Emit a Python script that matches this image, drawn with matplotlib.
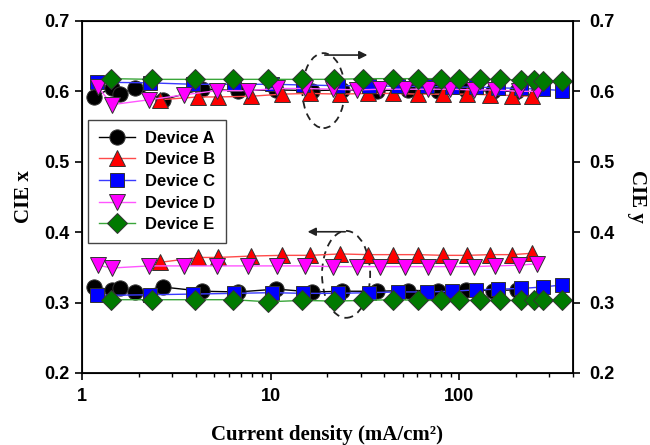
import matplotlib
matplotlib.use('Agg')
import matplotlib.pyplot as plt
from matplotlib.font_manager import FontProperties
from matplotlib.patches import Ellipse
from matplotlib.ticker import LogLocator, NullFormatter, FixedLocator

# Datos (densidad de corriente en mA/cm2)
j_a = [1.16, 1.44, 1.59, 1.91, 2.69, 4.33, 6.72, 10.7, 16.6, 23.9, 36.7, 53.6, 77.4, 108, 150, 203]
cie_y_a = [0.592, 0.605, 0.596, 0.605, 0.588, 0.603, 0.601, 0.602, 0.601, 0.602, 0.601, 0.602, 0.601, 0.602, 0.600, 0.600]
cie_x_a = [0.322, 0.318, 0.321, 0.315, 0.322, 0.316, 0.315, 0.319, 0.315, 0.316, 0.316, 0.317, 0.317, 0.318, 0.317, 0.318]

j_b = [2.59, 4.12, 5.27, 7.88, 11.5, 16.2, 23.4, 32.9, 44.7, 60.6, 82.3, 110, 146, 191, 244]
cie_y_b = [0.588, 0.592, 0.592, 0.593, 0.596, 0.597, 0.596, 0.597, 0.597, 0.596, 0.596, 0.596, 0.595, 0.594, 0.593]
cie_x_b = [0.357, 0.364, 0.364, 0.366, 0.367, 0.367, 0.369, 0.368, 0.368, 0.368, 0.367, 0.367, 0.368, 0.368, 0.370]

j_c = [1.20, 2.29, 3.88, 6.40, 10.2, 14.9, 22.8, 33.3, 47.5, 67.6, 91.8, 122, 161, 213, 276, 352]
cie_y_c = [0.613, 0.612, 0.610, 0.610, 0.610, 0.609, 0.608, 0.608, 0.607, 0.607, 0.606, 0.606, 0.605, 0.604, 0.603, 0.601]
cie_x_c = [0.310, 0.311, 0.312, 0.313, 0.314, 0.313, 0.313, 0.314, 0.315, 0.315, 0.316, 0.318, 0.319, 0.320, 0.322, 0.325]

j_d = [1.22, 1.44, 2.27, 3.48, 5.20, 7.60, 10.8, 15.2, 21.5, 28.8, 38.1, 51.7, 68.5, 89.6, 119, 155, 206, 259]
cie_y_d = [0.606, 0.581, 0.588, 0.595, 0.601, 0.601, 0.604, 0.604, 0.603, 0.602, 0.603, 0.603, 0.603, 0.603, 0.602, 0.602, 0.600, 0.600]
cie_x_d = [0.353, 0.349, 0.352, 0.352, 0.352, 0.352, 0.352, 0.352, 0.351, 0.351, 0.351, 0.351, 0.351, 0.351, 0.351, 0.352, 0.353, 0.355]

j_e = [1.43, 2.35, 3.97, 6.33, 9.70, 14.7, 21.7, 31.0, 44.7, 60.6, 80.3, 100, 129, 165, 213, 250, 276, 348]
cie_y_e = [0.618, 0.617, 0.617, 0.617, 0.617, 0.617, 0.617, 0.618, 0.618, 0.618, 0.618, 0.617, 0.617, 0.617, 0.616, 0.616, 0.615, 0.615]
cie_x_e = [0.304, 0.304, 0.304, 0.304, 0.301, 0.303, 0.302, 0.303, 0.304, 0.303, 0.303, 0.303, 0.303, 0.303, 0.303, 0.303, 0.303, 0.304]

dispositivos = ['Device A', 'Device B', 'Device C', 'Device D', 'Device E']
y_ticks = [0.2, 0.3, 0.4, 0.5, 0.6, 0.7]

series = [
    (j_a, cie_x_a, cie_y_a, 'o', 'black', 'black', 11),
    (j_b, cie_x_b, cie_y_b, '^', '#ff0000', '#ff4a4a', 11),
    (j_c, cie_x_c, cie_y_c, 's', '#0000ff', '#3a3aff', 9.5),
    (j_d, cie_x_d, cie_y_d, 'v', '#ff00ff', '#ff55ff', 11),
    (j_e, cie_x_e, cie_y_e, 'D', '#007a00', '#3aa63a', 10),
]

fig = plt.figure(figsize=(6.5, 4.45), dpi=100)
ax = fig.add_axes([0.126, 0.162, 0.7555, 0.791])

for (j, cx, cy, m, cor_m, cor_l, ms), nome in zip(series, dispositivos):
    estilo = dict(marker=m, markersize=ms, markerfacecolor=cor_m, markeredgecolor='#333333',
                  markeredgewidth=0.7, color=cor_l, linewidth=1.0)
    ax.plot(j, cy, label=nome, **estilo)
    ax.plot(j, cx, **estilo)

ax.set_xscale('log')
ax.set_xlim(1, 400)
ax.set_ylim(0.2, 0.7)
ax.set_yticks(y_ticks)
ax.xaxis.set_major_locator(FixedLocator([1, 10, 100]))
ax.xaxis.set_minor_locator(LogLocator(base=10, subs=range(2, 10)))
ax.xaxis.set_minor_formatter(NullFormatter())

fonte_ticks = FontProperties(family='Liberation Sans', weight='bold', size=13)
ax.set_xticklabels(['1', '10', '100'], fontproperties=fonte_ticks)
ax.set_yticklabels(['%.1f' % v for v in y_ticks], fontproperties=fonte_ticks)
ax.tick_params(which='major', direction='out', length=5, width=1.2, pad=4)
ax.tick_params(which='minor', direction='out', length=3, width=1.0)
ax.tick_params(axis='x', which='major', pad=6)
for s in ax.spines.values():
    s.set_linewidth(1.3)

ax2 = ax.twinx()
ax2.set_ylim(0.2, 0.7)
ax2.set_yticks(y_ticks)
ax2.set_yticklabels(['%.1f' % v for v in y_ticks], fontproperties=fonte_ticks)
ax2.tick_params(direction='out', length=5, width=1.2, pad=7)

fonte_rotulo = dict(family='Liberation Serif', weight='bold', size=15)
ax.set_xlabel('Current density (mA/cm²)', labelpad=14, **fonte_rotulo)
ax.set_ylabel('CIE x', labelpad=7, **fonte_rotulo)
ax2.set_ylabel('CIE y', rotation=270, labelpad=23, **fonte_rotulo)

# elipses tracejadas e setas
ax.add_patch(Ellipse((0.492, 0.802), 0.086, 0.213, transform=ax.transAxes,
                     fill=False, linestyle=(0, (4, 3)), linewidth=1.3, color='#222222'))
ax.add_patch(Ellipse((0.538, 0.28), 0.098, 0.247, transform=ax.transAxes,
                     fill=False, linestyle=(0, (4, 3)), linewidth=1.3, color='#222222'))
ax.annotate('', xy=(0.587, 0.903), xytext=(0.489, 0.903), xycoords='axes fraction',
            arrowprops=dict(arrowstyle='-|>', color='#222222', lw=1.2, mutation_scale=12))
ax.annotate('', xy=(0.454, 0.401), xytext=(0.542, 0.401), xycoords='axes fraction',
            arrowprops=dict(arrowstyle='-|>', color='#222222', lw=1.2, mutation_scale=12))

leg = ax.legend(loc='upper left', bbox_to_anchor=(0.012, 0.719), borderaxespad=0,
                fancybox=False, edgecolor='#444444', framealpha=1, handlelength=2.2,
                borderpad=0.65, labelspacing=0.4, handletextpad=0.6,
                prop=FontProperties(family='Liberation Sans', weight='bold', size=12))
leg.get_frame().set_linewidth(1.0)

fig.savefig('out.png', dpi=100)
